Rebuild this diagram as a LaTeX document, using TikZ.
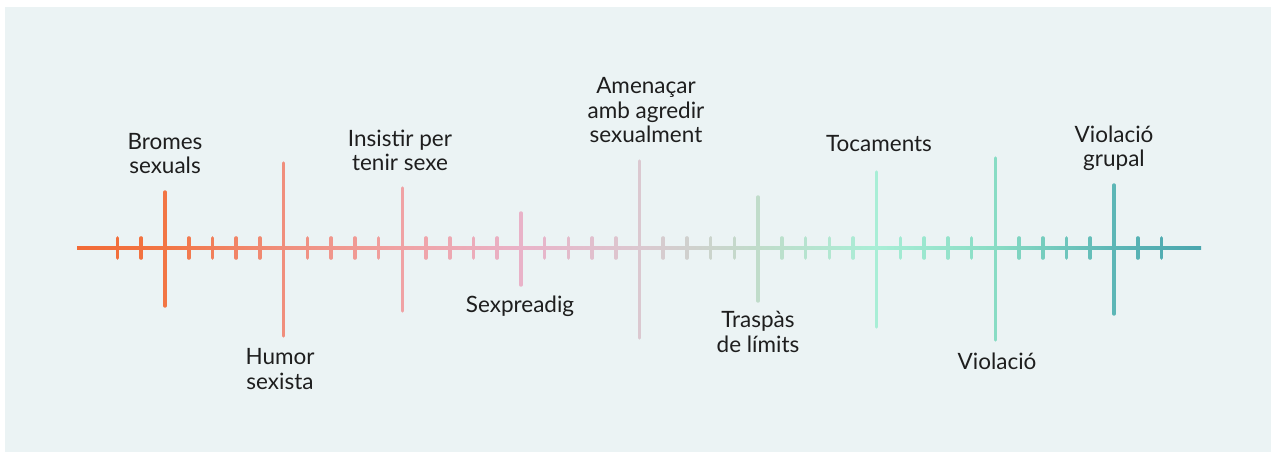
\documentclass[tikz,border=0pt]{standalone}
\usepackage{fontspec}
\setmainfont{Lato}
\definecolor{bgc}{HTML}{EBF3F4}
\definecolor{txt}{HTML}{1E1E1E}
\definecolor{cS}{HTML}{F26A36}
\definecolor{c0}{HTML}{F27544}
\definecolor{c1}{HTML}{F08E7C}
\definecolor{c2}{HTML}{F0A2A4}
\definecolor{c3}{HTML}{E9B2C8}
\definecolor{c4}{HTML}{DBC8D0}
\definecolor{c5}{HTML}{C0DCCA}
\definecolor{c6}{HTML}{A8EED6}
\definecolor{c7}{HTML}{88DCC4}
\definecolor{c8}{HTML}{5CB6B6}
\definecolor{cE}{HTML}{4AA6AE}
\pgfdeclarehorizontalshading{axisgrad}{100bp}{color(0bp)=(cS); color(25bp)=(cS); color(28.91bp)=(c0); color(34.19bp)=(c1); color(39.47bp)=(c2); color(44.75bp)=(c3); color(50.02bp)=(c4); color(55.30bp)=(c5); color(60.58bp)=(c6); color(65.85bp)=(c7); color(71.13bp)=(c8); color(75bp)=(cE); color(100bp)=(cE)}
\tikzset{
  smalltick/.style={line width=3.6pt, line cap=round},
  bigtick/.style={line width=3.4pt, line cap=round},
  lbl/.style={font=\fontsize{22.5}{24.5}\selectfont, text=txt, align=center, inner sep=0pt, anchor=base}
}
\begin{document}
\begin{tikzpicture}[x=1pt,y=1pt]
\useasboundingbox (0,0) rectangle (1271,453);
\fill[bgc] (5,1) rectangle (1271,446);
% axis
\shade[shading=axisgrad] (77,203.7) rectangle (1201,206.3);
% small ticks before first big tick
\draw[smalltick, color=c0!46!cS] ({165-2*23.725},195) -- ++(0,20);
\draw[smalltick, color=c0!73!cS] ({165-1*23.725},195) -- ++(0,20);
% small ticks between big ticks
\foreach \k [evaluate=\k as \kn using int(\k+1)] in {0,...,7}{
  \foreach \j in {1,2,3,4}{
    \pgfmathtruncatemacro\p{20*\j}
    \draw[smalltick, color=c\kn!\p!c\k] ({165+(5*\k+\j)*23.725},195) -- ++(0,20);
  }
}
% small ticks after last big tick
\draw[smalltick, color=cE!27!c8] ({165+41*23.725},195) -- ++(0,20);
\draw[smalltick, color=cE!55!c8] ({165+42*23.725},195) -- ++(0,20);
% big ticks
\foreach \k/\t/\b in {0/261/147, 1/290/117, 2/265/142, 3/240/168, 4/292/115, 5/256/152, 6/281/126, 7/295/113, 8/268/139}{
  \draw[bigtick, color=c\k] ({165+\k*118.625},\t) -- ({165+\k*118.625},\b);
}
% labels (anchor = baseline of last line)
\node[lbl] (bromes) at (165,279) {Bromes\\sexuals};
\node[lbl] (humor) at (280,64) {Humor\\sexista};
\node[lbl] (insistir) at (400,282) {Insistir per\\tenir sexe};
\node[lbl] (sexpre) at (520,141) {Sexpreadig};
\node[lbl] (amenacar) at (646,310) {Amenaçar\\amb agredir\\sexualment};
\node[lbl] (traspas) at (758,101) {Traspàs\\de límits};
\node[lbl] (tocaments) at (879,301) {Tocaments};
\node[lbl] (violacio) at (997,84) {Violació};
\node[lbl] (grupal) at (1114,286) {Violació\\grupal};
\end{tikzpicture}
\end{document}
